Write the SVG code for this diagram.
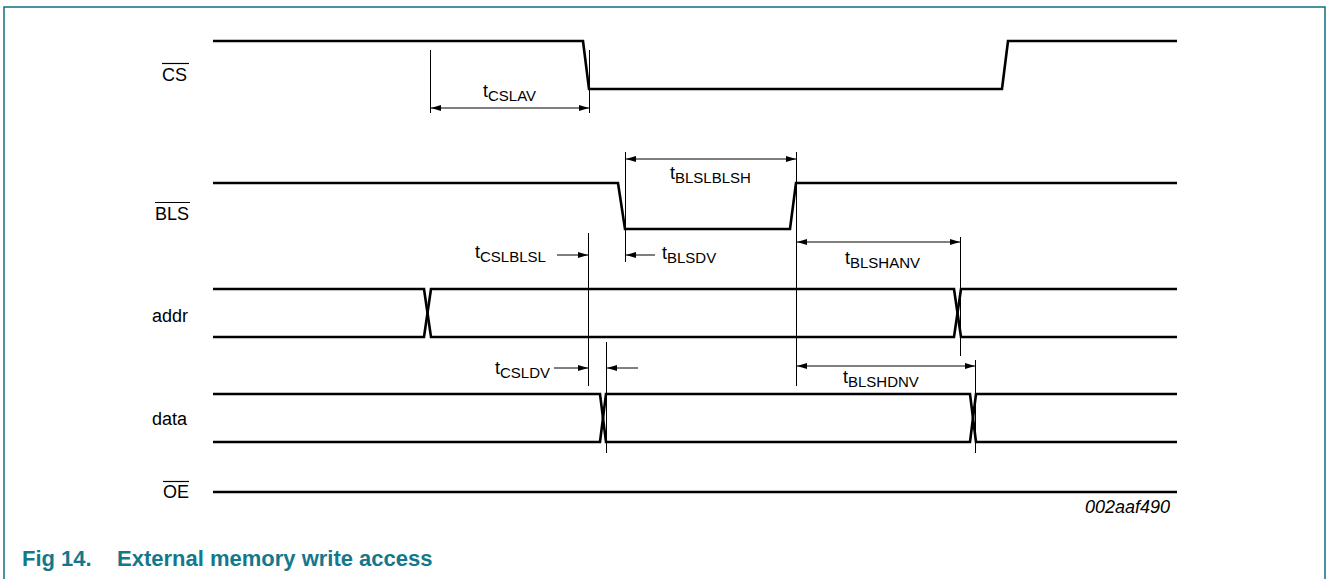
<svg xmlns="http://www.w3.org/2000/svg" width="1327" height="579" viewBox="0 0 1327 579">
<defs>
<marker id="ah" viewBox="0 0 10 6" refX="10" refY="3" markerWidth="10" markerHeight="6" markerUnits="userSpaceOnUse" orient="auto-start-reverse">
<path d="M0,0 L10,3 L0,6 Z" fill="#000"/>
</marker>
</defs>
<style>
.sig{fill:none;stroke:#000;stroke-width:2.6;stroke-linejoin:miter}
.dim{fill:none;stroke:#000;stroke-width:1}
.arr{fill:none;stroke:#000;stroke-width:1}
.ovl{stroke:#000;stroke-width:1.2}
.lbl{font-family:"Liberation Sans",Arial,sans-serif;font-size:18px;fill:#000}
.sub{font-size:15px}
.ttl{font-family:"Liberation Sans",Arial,sans-serif;font-size:22px;font-weight:bold;fill:#14788c}
</style>
<rect width="1327" height="579" fill="#fff"/>
<path d="M4,579 V7 H1325 V579" fill="none" stroke="#0f6e84" stroke-width="1.5"/>

<g id="sig-cs">
<text class="lbl" x="162" y="81">CS</text>
<line class="ovl" x1="162" y1="63.5" x2="189" y2="63.5"/>
<path class="sig" d="M213,41 H583 L589,89 H1002 L1008,41 H1177"/>
</g>
<g id="sig-bls">
<text class="lbl" x="155" y="220">BLS</text>
<line class="ovl" x1="155" y1="202.5" x2="190" y2="202.5"/>
<path class="sig" d="M213,183 H618 L625,229 H790 L796,183 H1177"/>
</g>
<g id="sig-addr">
<text class="lbl" x="152" y="322">addr</text>
<path class="sig" d="M213,289 H424 L431,337 H954 L961,289 H1177"/>
<path class="sig" d="M213,337 H424 L431,289 H954 L961,337 H1177"/>
</g>
<g id="sig-data">
<text class="lbl" x="152" y="425">data</text>
<path class="sig" d="M213,394 H600 L606,442 H970 L976,394 H1177"/>
<path class="sig" d="M213,442 H600 L606,394 H970 L976,442 H1177"/>
</g>
<g id="sig-oe">
<text class="lbl" x="163" y="498">OE</text>
<line class="ovl" x1="163" y1="481.5" x2="189" y2="481.5"/>
<path class="sig" d="M213,492 H1177"/>
</g>

<g id="connectors">
<line class="dim" x1="430.5" y1="50" x2="430.5" y2="113"/>
<line class="dim" x1="589.5" y1="50" x2="589.5" y2="113"/>
<line class="arr" x1="431" y1="108" x2="589" y2="108" marker-start="url(#ah)" marker-end="url(#ah)"/>

<line class="dim" x1="625.5" y1="152" x2="625.5" y2="262"/>
<line class="dim" x1="796.5" y1="152" x2="796.5" y2="386"/>
<line class="arr" x1="626" y1="159" x2="796" y2="159" marker-start="url(#ah)" marker-end="url(#ah)"/>

<line class="dim" x1="588.5" y1="233" x2="588.5" y2="386"/>
<line class="arr" x1="557" y1="255" x2="588" y2="255" marker-end="url(#ah)"/>
<line class="arr" x1="655" y1="255" x2="626" y2="255" marker-end="url(#ah)"/>

<line class="dim" x1="960.5" y1="237" x2="960.5" y2="356"/>
<line class="arr" x1="797" y1="242" x2="960" y2="242" marker-start="url(#ah)" marker-end="url(#ah)"/>

<line class="dim" x1="606.5" y1="342" x2="606.5" y2="453"/>
<line class="arr" x1="554" y1="368" x2="588" y2="368" marker-end="url(#ah)"/>
<line class="arr" x1="638" y1="368" x2="607" y2="368" marker-end="url(#ah)"/>

<line class="dim" x1="975.5" y1="360" x2="975.5" y2="453"/>
<line class="arr" x1="797" y1="366" x2="975" y2="366" marker-start="url(#ah)" marker-end="url(#ah)"/>
</g>

<g id="labels">
<text class="lbl" x="483" y="97">t<tspan class="sub" dy="4">CSLAV</tspan></text>
<text class="lbl" x="670" y="179">t<tspan class="sub" dy="4">BLSLBLSH</tspan></text>
<text class="lbl" x="475" y="258">t<tspan class="sub" dy="4">CSLBLSL</tspan></text>
<text class="lbl" x="662" y="259">t<tspan class="sub" dy="4">BLSDV</tspan></text>
<text class="lbl" x="845" y="264">t<tspan class="sub" dy="4">BLSHANV</tspan></text>
<text class="lbl" x="495" y="374">t<tspan class="sub" dy="4">CSLDV</tspan></text>
<text class="lbl" x="843" y="383">t<tspan class="sub" dy="4">BLSHDNV</tspan></text>
<text class="lbl" x="1170" y="513" text-anchor="end" font-style="italic" font-size="16">002aaf490</text>
<text class="ttl" x="22" y="566">Fig 14.</text>
<text class="ttl" x="117" y="566">External memory write access</text>
</g>
</svg>
